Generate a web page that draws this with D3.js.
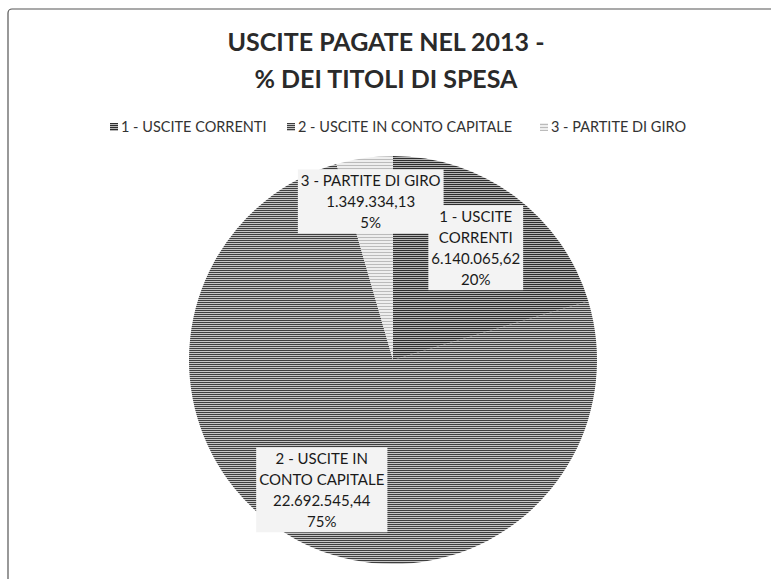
<!DOCTYPE html>
<html>
<head>
<meta charset="utf-8">
<script src="https://cdn.jsdelivr.net/npm/d3@7"></script>
<style>
  body { margin: 0; background: #fff; }
  svg text { font-family: Lato, "Open Sans", sans-serif; fill: #1a1a1a; }
</style>
</head>
<body>
<div id="chart"></div>
<script>

// data
const categories = ["1 - USCITE CORRENTI", "2 - USCITE IN CONTO CAPITALE", "3 - PARTITE DI GIRO"];
const labelLines = [["1 - USCITE", "CORRENTI"], ["2 - USCITE IN", "CONTO CAPITALE"], ["3 - PARTITE DI GIRO"]];
const amounts = [6140065.62, 22692545.44, 1349334.13];
const titleLines = ["USCITE PAGATE NEL 2013 -", "% DEI TITOLI DI SPESA"];

// styling
const width = 771, height = 579;
const cx = 393, cy = 360, radius = 204;
const labelDist = [0.68, 0.73, 0.78];

const it = d3.formatLocale({decimal: ",", thousands: ".", grouping: [3], currency: ["", "€"]});
const fmtNum = it.format(",.2f");

// whole percentages that add up to 100 (largest remainder)
function percents(vals) {
  const tot = d3.sum(vals);
  const raw = vals.map(v => v / tot * 100);
  const out = raw.map(Math.floor);
  let left = 100 - d3.sum(out);
  const order = d3.range(vals.length).sort((a, b) => (raw[b] - out[b]) - (raw[a] - out[a]));
  for (let k = 0; k < left; k++) out[order[k]] += 1;
  return out;
}
const pct = percents(amounts);

const svg = d3.select("#chart").append("svg")
  .attr("width", width)
  .attr("height", height);

// hatched fills to look like the scanned grey
const defs = svg.append("defs");
function hatch(id, bg, line, step) {
  const p = defs.append("pattern")
    .attr("id", id)
    .attr("patternUnits", "userSpaceOnUse")
    .attr("width", 6)
    .attr("height", step);
  p.append("rect").attr("width", 6).attr("height", step).attr("fill", bg);
  p.append("rect").attr("width", 6).attr("height", 1).attr("fill", line);
}
hatch("h1", "#b5b5b5", "#2e2e2e", 2);
hatch("h2", "#c4c4c4", "#3e3e3e", 2);
hatch("h3", "#eeeeee", "#bbb", 3);
const fills = ["url(#h1)", "url(#h2)", "url(#h3)"];

// chart area border (scan shows only left and top edges)
svg.append("rect")
  .attr("x", 8).attr("y", 9)
  .attr("width", 820).attr("height", 640)
  .attr("rx", 4)
  .attr("fill", "none")
  .attr("stroke", "#555")
  .attr("stroke-width", 1.2);

// title
svg.append("g").selectAll("text")
  .data(titleLines)
  .join("text")
  .attr("x", 386)
  .attr("y", (d, i) => 51 + i * 37)
  .attr("text-anchor", "middle")
  .style("font-size", "25px")
  .style("font-weight", "bold")
  .style("fill", "#2a2a2a")
  .text(d => d);

// legend
const legendX = [110, 287, 540];
const legend = svg.append("g").selectAll("g")
  .data(categories)
  .join("g")
  .attr("transform", (d, i) => "translate(" + legendX[i] + ",127)");
legend.append("rect")
  .attr("x", 0).attr("y", -4)
  .attr("width", 8).attr("height", 8)
  .attr("fill", (d, i) => fills[i]);
legend.append("text")
  .attr("x", 11)
  .attr("y", 5)
  .style("font-size", "14.5px")
  .style("fill", "#333")
  .text(d => d);

// pie
const pie = d3.pie().sort(null).value(d => d);
const arcs = pie(amounts);
const arc = d3.arc().innerRadius(0).outerRadius(radius);

const g = svg.append("g").attr("transform", "translate(" + cx + "," + cy + ")");

g.selectAll("path.slice")
  .data(arcs)
  .join("path")
  .attr("class", "slice")
  .attr("d", arc)
  .attr("fill", (d, i) => fills[i]);

// data labels in light boxes: boxes first, text on top
const lineH = 21;
const boxLayer = g.append("g");
const textLayer = g.append("g");
arcs.forEach((d, i) => {
  const la = d3.arc().innerRadius(radius * labelDist[i]).outerRadius(radius * labelDist[i]);
  const [lx, ly] = la.centroid(d);
  const lines = labelLines[i].concat([fmtNum(d.data), pct[i] + "%"]);
  const box = boxLayer.append("rect").attr("fill", "#f3f3f3");
  const t = textLayer.append("text")
    .attr("transform", "translate(" + lx + "," + ly + ")")
    .attr("text-anchor", "middle")
    .style("font-size", "15px");
  const y0 = -(lines.length - 1) * lineH / 2 + 5;
  t.selectAll("tspan")
    .data(lines)
    .join("tspan")
    .attr("x", 0)
    .attr("y", (s, j) => y0 + j * lineH)
    .text(s => s);
  const bb = t.node().getBBox();
  box.attr("x", lx + bb.x - 3).attr("y", ly + bb.y - 2)
    .attr("width", bb.width + 6).attr("height", bb.height + 4);
});

</script>
</body>
</html>
